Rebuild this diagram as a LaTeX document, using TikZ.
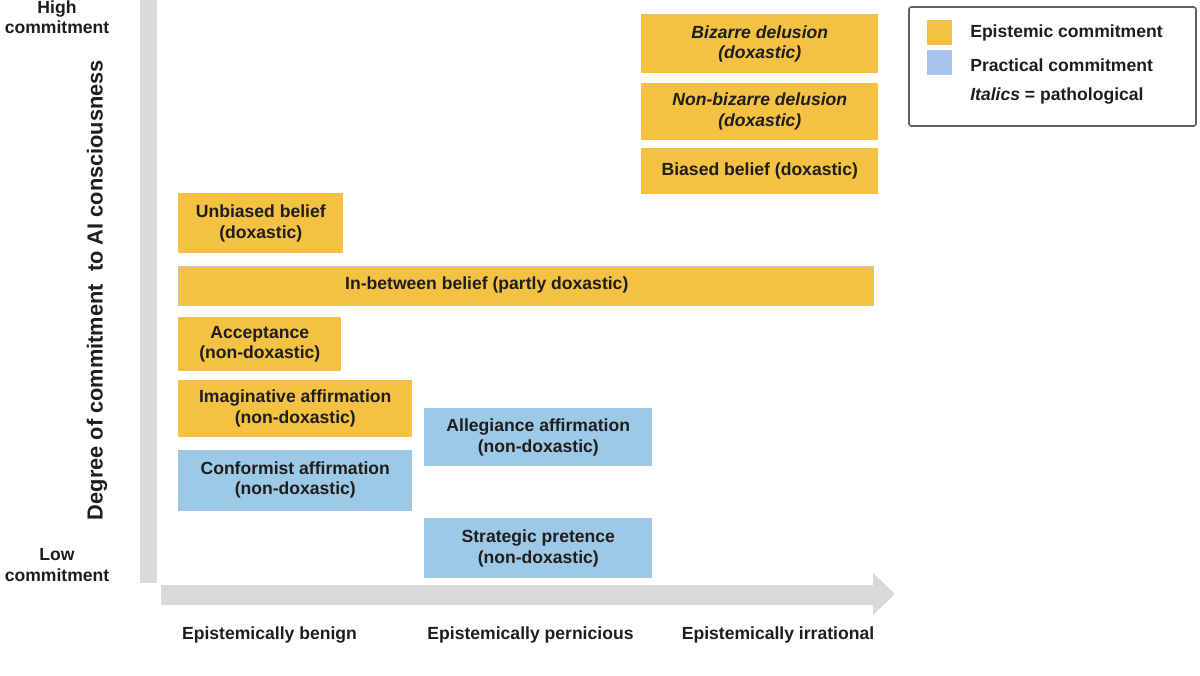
\documentclass[tikz,border=0pt]{standalone}
\usepackage{fontspec}
\setmainfont{Liberation Sans}
\usetikzlibrary{positioning}
\definecolor{epiyellow}{RGB}{244,193,66}
\definecolor{pracblue}{RGB}{157,201,230}
\definecolor{keyblue}{RGB}{166,196,236}
\definecolor{axisgrey}{RGB}{217,217,217}
\definecolor{inkgrey}{RGB}{30,30,30}
\tikzset{%
  txt/.style={text=inkgrey, font=\fontsize{12.5}{14.5}\selectfont\bfseries},
  box/.style={txt, anchor=north west, inner sep=0pt, align=center},
  bsize/.style 2 args={minimum width=#1*0.25mm, minimum height=#2*0.25mm},
  epibox/.style={box, fill=epiyellow},
  pracbox/.style={box, fill=pracblue},
  patho/.style={font=\fontsize{12.5}{14.5}\selectfont\bfseries\itshape},
  keysq/.style={minimum size=6.25mm, inner sep=0pt}
}

\begin{document}
\begin{tikzpicture}[x=0.25mm, y=-0.25mm]
    \useasboundingbox (0,0) rectangle (1200,675);

    % axes
    \fill[axisgrey] (140,0) rectangle (157,583);
    \fill[axisgrey] (161,585) -- (873,585) -- (873,573) -- (895,594)
      -- (873,615) -- (873,605) -- (161,605) -- cycle;

    \node[txt, align=center, inner sep=0pt] (high) at (57,17) {High\\commitment};
    \node[txt, align=center, inner sep=0pt] (low) at (57,565) {Low\\commitment};
    \node[txt, rotate=90, font=\fontsize{15.5}{18}\selectfont\bfseries]
      (yaxis) at (97,290) {Degree of commitment\ \ to AI consciousness};

    \node[txt, inner sep=0pt] (benign) at (269.5,635) {Epistemically benign};
    \node[txt, inner sep=0pt] (pernicious) at (530.5,635) {Epistemically pernicious};
    \node[txt, inner sep=0pt] (irrational) at (778,635) {Epistemically irrational};

    % right column
    \node[epibox, patho, bsize={237}{59}] (bizarre) at (641,14)
      {Bizarre delusion\\(doxastic)};
    \node[epibox, patho, bsize={237}{57}, below=2.25mm of bizarre] (nonbizarre)
      {Non-bizarre delusion\\(doxastic)};
    \node[epibox, bsize={237}{46}, below=2mm of nonbizarre] (biased)
      {Biased belief (doxastic)};

    % left column
    \node[epibox, bsize={165}{60}] (unbiased) at (178,193)
      {Unbiased belief\\(doxastic)};
    \node[epibox, bsize={695}{39}, draw=gray!45, align=none,
      below=3mm of unbiased.south west, anchor=north west] (inbetween)
      {In-between belief (partly doxastic)\kern19.5mm};
    \node[epibox, bsize={163}{54},
      below=3mm of inbetween.south west, anchor=north west] (acceptance)
      {Acceptance\\(non-doxastic)};
    \node[epibox, bsize={234}{57},
      below=2mm of acceptance.south west, anchor=north west] (imaginative)
      {Imaginative affirmation\\(non-doxastic)};
    \node[pracbox, bsize={234}{61},
      below=3mm of imaginative.south west, anchor=north west] (conformist)
      {Conformist affirmation\\(non-doxastic)};

    % middle column
    \node[pracbox, bsize={228}{58}] (allegiance) at (424,408)
      {Allegiance affirmation\\(non-doxastic)};
    \node[pracbox, bsize={228}{60}] (strategic) at (424,518)
      {Strategic pretence\\(non-doxastic)};

    % legend
    \draw[gray!75!black, line width=0.4mm, rounded corners=0.6mm]
      (909,7) rectangle (1196,126);
    \node[keysq, fill=epiyellow] (key-epi) at (939.5,32.5) {};
    \node[keysq, fill=keyblue] (key-prac) at (939.5,62.5) {};
    \node[txt, anchor=west, inner sep=0pt] (lab-epi) at (970,33) {Epistemic commitment};
    \node[txt, anchor=west, inner sep=0pt] (lab-prac) at (970,65) {Practical commitment};
    \node[txt, anchor=west, inner sep=0pt] (lab-patho) at (970,96)
      {\textit{Italics} = pathological};
\end{tikzpicture}
\end{document}
